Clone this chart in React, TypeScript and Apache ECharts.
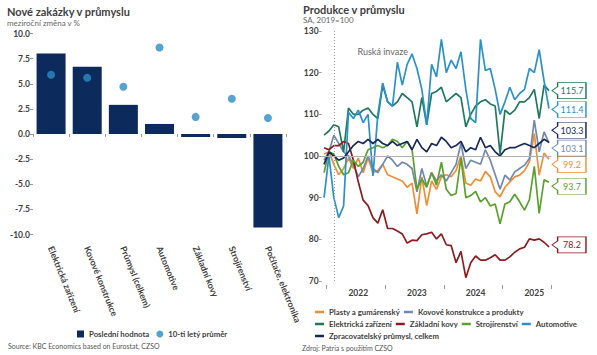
import React, { useEffect, useRef } from 'react';
import * as echarts from 'echarts';

// ---------- Left chart: new orders ----------
const orderCategories = [
  'Elektrická zařízení',
  'Kovové konstrukce',
  'Průmysl (celkem)',
  'Automotive',
  'Základní kovy',
  'Strojírenství',
  'Počítače, elektronika',
];
const lastValue = [8.0, 6.7, 2.9, 1.0, -0.3, -0.4, -9.3];
const tenYearAvg = [5.9, 5.6, 4.7, 8.6, 1.7, 3.5, 1.6];
const leftTicks = [-10, 10, 2.5];

// ---------- Right chart: production ----------
const months = [
  '2021-12',
  '2022-01', '2022-02', '2022-03', '2022-04', '2022-05', '2022-06', '2022-07', '2022-08', '2022-09', '2022-10', '2022-11', '2022-12',
  '2023-01', '2023-02', '2023-03', '2023-04', '2023-05', '2023-06', '2023-07', '2023-08', '2023-09', '2023-10', '2023-11', '2023-12',
  '2024-01', '2024-02', '2024-03', '2024-04', '2024-05', '2024-06', '2024-07', '2024-08', '2024-09', '2024-10', '2024-11', '2024-12',
  '2025-01', '2025-02', '2025-03', '2025-04', '2025-05', '2025-06', '2025-07', '2025-08', '2025-09', '2025-10',
];

const plasty = [100.5, 101, 98, 95.5, 97, 99.5, 97, 99.5, 96, 99.5, 96, 96.5, 98, 95.5, 95, 94.5, 94, 92.5, 93.5, 86.1, 95, 88.1, 94, 92, 95, 95.5, 95, 96.5, 100, 93.5, 93, 94.5, 94, 96.3, 95, 91.4, 90.2, 92.5, 93.8, 95, 95.4, 96.5, 98.6, 105.4, 95.4, 100.7, 99.2];
const kovove = [99, 101, 105, 103, 101, 100, 98, 95, 97, 100, 97, 96, 98, 100, 99, 97.5, 98.5, 98, 97, 91.4, 97, 92.8, 96, 94, 95.5, 94, 96, 98, 103, 97, 99, 98.5, 98, 101.5, 99, 95.5, 92, 95.4, 94.2, 96.2, 97, 97.8, 99.4, 108.6, 101, 105.8, 103.1];
const elektricka = [105, 106, 107.5, 107, 101, 111.5, 110, 110, 111, 111.5, 110, 109, 117, 113, 112, 113, 115, 114, 113, 107, 114, 107.5, 115, 115.5, 116.5, 113, 114, 115, 114, 107, 110, 112, 113, 113.5, 112.5, 112, 100.5, 111, 110, 111, 113, 113, 114, 116, 109, 117, 115.7];
const zakladni = [102, 101.5, 102.5, 102.5, 103.5, 103, 99, 93.8, 89.4, 88.1, 85.2, 83.9, 87.1, 82.6, 82.6, 82, 81.3, 79.1, 79.8, 79.7, 81.1, 81.3, 81.7, 80.1, 81.3, 78.7, 78.5, 74.4, 77.1, 70.8, 74.4, 76, 75, 75, 75.6, 76.3, 75, 75, 75.8, 76.9, 77.7, 78.1, 80.1, 79.8, 80.1, 79.3, 78.2];
const strojirenstvi = [96, 101, 100.5, 97.5, 95.5, 96, 99, 97.5, 98.5, 101.5, 102, 102.5, 102, 102.5, 104, 103.5, 102, 103.5, 101.5, 92, 94.5, 92.5, 96, 93, 98.5, 92, 90.5, 91, 99.5, 90, 90.5, 91.5, 89, 90, 88, 88.5, 83.7, 88.5, 89, 90.8, 89, 87, 89.5, 97.5, 86.2, 94.3, 93.7];
const automotive = [90, 100, 90, 85.2, 88, 110.5, 109, 111, 108, 110, 95.2, 110, 117.5, 113, 112, 122.5, 117, 122, 124.5, 121, 116, 107.5, 122, 119, 128, 120, 123, 121, 125, 116, 109, 108, 128, 120.5, 121, 116, 110, 113, 116.5, 113.5, 115, 116, 121, 120, 125.5, 118, 111.4];
const celkem = [98, 101, 100, 99, 99.5, 101, 102.5, 103.5, 103, 104, 103, 104, 103, 102.5, 103.5, 102.5, 103, 103.5, 101.5, 104, 102, 101, 103, 102.5, 104.5, 103.5, 102, 102.5, 103.5, 101, 102, 101.5, 104.5, 102, 102.5, 101, 100, 101.5, 102, 102, 102.5, 103, 102.5, 102, 103, 104, 103.3];

const rightTicks = [70, 130, 10];
const invasionMonth = '2022-02';
const invasionLabelAt = ['2022-12', 125.1];

const FONT = 'Lato, "Noto Sans", "DejaVu Sans", sans-serif';
const TXT = '#404040';
const CALLOUT = 'path://M0,8L6,4L6,0L36,0L36,16L6,16L6,12Z';
const LBL = 8.5;
const LEG = 7.8;

type Line = { name: string; data: number[]; color: string; dy: number; row: number };
const lines: Line[] = [
  { name: 'Plasty a gumárenský', data: plasty, color: '#EE8E35', dy: 5, row: 0 },
  { name: 'Kovové konstrukce a produkty', data: kovove, color: '#7189AD', dy: 5, row: 0 },
  { name: 'Elektrická zařízení', data: elektricka, color: '#1E7A5A', dy: 0, row: 1 },
  { name: 'Základní kovy', data: zakladni, color: '#8E1B1F', dy: -2, row: 1 },
  { name: 'Strojírenství', data: strojirenstvi, color: '#5AA02C', dy: 4, row: 1 },
  { name: 'Automotive', data: automotive, color: '#2A91C9', dy: 1, row: 1 },
  { name: 'Zpracovatelský průmysl, celkem', data: celkem, color: '#15295B', dy: -12, row: 2 },
];

export default function App() {
  const ref = useRef<HTMLDivElement>(null);
  useEffect(() => {
    const chart = echarts.init(ref.current!, null, { renderer: 'svg' });
    const last = months.length - 1;
    const lineSeries = lines.map((l, idx) => {
      const s: any = {
        name: l.name,
        type: 'line',
        xAxisIndex: 1,
        yAxisIndex: 1,
        data: l.data,
        showSymbol: false,
        lineStyle: { width: 1.7, color: l.color },
        itemStyle: { color: l.color },
        markPoint: {
          silent: true,
          symbol: CALLOUT,
          symbolSize: [34, 16],
          symbolKeepAspect: false,
          symbolOffset: [20, l.dy],
          itemStyle: { color: '#fff', borderColor: l.color, borderWidth: 1 },
          label: {
            show: true,
            position: 'inside',
            offset: [3, 0],
            color: l.color,
            fontSize: 9,
            fontFamily: FONT,
            formatter: (p: any) => Number(p.value).toFixed(1),
          },
          data: [{ coord: [months[last], l.data[last]], value: l.data[last] }],
        },
      };
      if (idx === lines.length - 1) {
        s.markPoint.data.push({
          coord: invasionLabelAt,
          value: 0,
          symbol: 'rect',
          symbolSize: 1,
          symbolOffset: [0, 0],
          itemStyle: { color: 'rgba(0,0,0,0)', borderWidth: 0 },
          label: {
            show: true,
            position: 'inside',
            offset: [0, 0],
            formatter: 'Ruská invaze',
            color: '#666',
            fontSize: 9,
            fontFamily: FONT,
            backgroundColor: 'rgba(255,255,255,0.7)',
            padding: [1, 2],
          },
        });
        s.markLine = {
          silent: true,
          symbol: 'none',
          label: { show: false },
          data: [
            { xAxis: invasionMonth, lineStyle: { color: '#999', type: [1, 2], width: 1 } },
            { yAxis: 100, lineStyle: { color: '#b0b0b0', type: 'solid', width: 1 } },
          ],
        };
      }
      return s;
    });

    const legendText = { fontSize: LEG, fontWeight: 'bold', color: TXT, fontFamily: FONT };
    const rowTops = [303, 315, 327];
    const rightLegends = rowTops.map((top, r) => ({
      data: lines.filter((l) => l.row === r).map((l) => l.name),
      icon: 'rect',
      left: 310,
      top,
      width: 287,
      itemWidth: 9,
      itemHeight: 2.5,
      itemGap: 4,
      textStyle: legendText,
    }));

    const option: any = {
      animation: false,
      textStyle: { fontFamily: FONT },
      title: [
        {
          text: 'Nové zakázky v průmyslu',
          subtext: 'meziroční změna v %',
          left: 7,
          top: 5,
          padding: 0,
          itemGap: 0,
          textStyle: { fontSize: 11, fontWeight: 'bold', color: TXT, fontFamily: FONT, lineHeight: 13 },
          subtextStyle: { fontSize: 8, color: '#666', fontFamily: FONT, lineHeight: 9 },
        },
        {
          text: 'Produkce v průmyslu',
          subtext: 'SA, 2019=100',
          left: 303,
          top: 3,
          padding: 0,
          itemGap: 0,
          textStyle: { fontSize: 11, fontWeight: 'bold', color: TXT, fontFamily: FONT, lineHeight: 12 },
          subtextStyle: { fontSize: 8, color: '#666', fontFamily: FONT, lineHeight: 9 },
        },
      ],
      grid: [
        { left: 33, top: 33.5, width: 253, height: 201 },
        { left: 321.6, top: 31, width: 229.8, height: 250 },
      ],
      legend: [
        {
          data: [
            { name: 'Poslední hodnota', icon: 'rect' },
            { name: '10-ti letý průměr', icon: 'circle' },
          ],
          left: 72,
          top: 325,
          itemWidth: 7,
          itemHeight: 7,
          itemGap: 7,
          textStyle: legendText,
        },
        ...rightLegends,
      ],
      xAxis: [
        {
          gridIndex: 0,
          type: 'category',
          data: orderCategories,
          offset: 7,
          axisLine: { show: false },
          axisTick: { show: true, length: 3, lineStyle: { color: '#999' } },
          axisLabel: {
            interval: 0,
            rotate: -68,
            margin: 5,
            fontSize: 8.8,
            fontWeight: 'bold',
            color: TXT,
            fontFamily: FONT,
          },
        },
        {
          gridIndex: 1,
          type: 'category',
          data: months,
          boundaryGap: true,
          offset: 4,
          axisLine: { show: false },
          axisTick: {
            show: true,
            length: 4,
            interval: (_i: number, v: string) => v.endsWith('-01'),
            lineStyle: { color: '#999' },
          },
          axisLabel: {
            interval: (_i: number, v: string) => v.endsWith('-07'),
            formatter: (v: string) => v.slice(0, 4),
            margin: 3,
            fontSize: LBL,
            fontWeight: 'bold',
            color: TXT,
            fontFamily: FONT,
          },
        },
      ],
      yAxis: [
        {
          gridIndex: 0,
          type: 'value',
          min: leftTicks[0],
          max: leftTicks[1],
          interval: leftTicks[2],
          axisLine: { show: false },
          axisTick: { show: true, length: 3, lineStyle: { color: '#999' } },
          splitLine: { show: false },
          axisLabel: {
            formatter: (v: number) => v.toFixed(1),
            margin: 3,
            fontSize: LBL,
            fontWeight: 'bold',
            color: TXT,
            fontFamily: FONT,
          },
        },
        {
          gridIndex: 1,
          type: 'value',
          min: rightTicks[0],
          max: rightTicks[1],
          interval: rightTicks[2],
          axisLine: { show: false },
          axisTick: { show: true, length: 2.5, lineStyle: { color: '#999' } },
          splitLine: { show: false },
          axisLabel: {
            margin: 3,
            fontSize: LBL,
            fontWeight: 'bold',
            color: TXT,
            fontFamily: FONT,
          },
        },
      ],
      series: [
        {
          name: 'Poslední hodnota',
          type: 'bar',
          xAxisIndex: 0,
          yAxisIndex: 0,
          data: lastValue,
          barWidth: 29,
          itemStyle: { color: '#0C2B5C' },
        },
        {
          name: '10-ti letý průměr',
          type: 'scatter',
          xAxisIndex: 0,
          yAxisIndex: 0,
          data: tenYearAvg,
          symbolSize: 8,
          itemStyle: { color: '#2A8CC4' },
        },
        ...lineSeries,
      ],
      graphic: [
        {
          type: 'text',
          left: 8,
          top: 342,
          style: {
            text: 'Source: KBC Economics based on Eurostat, CZSO',
            fontSize: 7,
            fill: '#555',
            fontFamily: FONT,
          },
        },
        {
          type: 'text',
          left: 302,
          top: 344,
          style: {
            text: 'Zdroj: Patria s použitím CZSO',
            fontSize: 7,
            fill: '#555',
            fontFamily: FONT,
          },
        },
      ],
    };
    chart.setOption(option);
    return () => chart.dispose();
  }, []);
  return <div ref={ref} style={{ position: 'absolute', left: 0, top: 0, width: 597, height: 355 }} />;
}
